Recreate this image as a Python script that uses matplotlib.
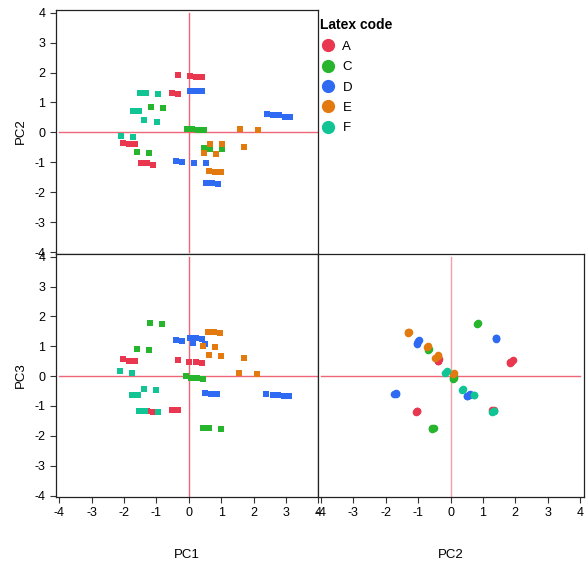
import matplotlib.pyplot as plt
from matplotlib.lines import Line2D

plt.rcParams['font.family'] = ['Liberation Sans', 'DejaVu Sans']
plt.rcParams['axes.unicode_minus'] = False

# principal component scores, one list per latex code
a_pc1 = [-0.34, 0.02, 0.22, 0.40, -0.52, -0.34, -2.03, -1.86, -1.67, -1.48, -1.29, -1.11]
a_pc2 = [1.93, 1.88, 1.85, 1.85, 1.33, 1.29, -0.36, -0.40, -0.40, -1.04, -1.04, -1.08]
a_pc3 = [0.53, 0.49, 0.49, 0.44, -1.13, -1.13, 0.57, 0.52, 0.52, -1.17, -1.17, -1.21]

c_pc1 = [-1.19, -0.82, -0.08, 0.07, 0.26, 0.44, 0.44, 0.63, 1.00, -1.60, -1.23]
c_pc2 = [0.85, 0.81, 0.12, 0.12, 0.08, 0.08, -0.51, -0.56, -0.56, -0.65, -0.68]
c_pc3 = [1.77, 1.74, 0.00, -0.05, -0.05, -0.08, -1.73, -1.73, -1.77, 0.92, 0.89]

d_pc1 = [0.03, 0.22, 0.40, 2.40, 2.59, 2.77, 2.95, 3.11, -0.41, -0.22, 0.14, 0.51, 0.51, 0.70, 0.88]
d_pc2 = [1.40, 1.40, 1.40, 0.60, 0.57, 0.57, 0.52, 0.52, -0.97, -1.00, -1.04, -1.04, -1.68, -1.68, -1.73]
d_pc3 = [1.29, 1.29, 1.25, -0.60, -0.64, -0.64, -0.68, -0.68, 1.21, 1.17, 1.12, 1.08, -0.57, -0.60, -0.60]

e_pc1 = [1.56, 2.10, 0.63, 1.00, 0.44, 0.81, 1.69, 0.60, 0.78, 0.97]
e_pc2 = [0.12, 0.08, -0.40, -0.40, -0.68, -0.73, -0.49, -1.28, -1.32, -1.32]
e_pc3 = [0.11, 0.08, 0.72, 0.68, 1.01, 0.97, 0.60, 1.49, 1.49, 1.45]

f_pc1 = [-1.53, -1.34, -0.96, -1.74, -1.56, -1.38, -1.00, -2.11, -1.74]
f_pc2 = [1.33, 1.33, 1.29, 0.72, 0.72, 0.40, 0.36, -0.12, -0.17]
f_pc3 = [-1.17, -1.17, -1.21, -0.64, -0.64, -0.44, -0.48, 0.17, 0.12]

codes = ['A', 'C', 'D', 'E', 'F']
colors = ['#E8374E', '#26B52C', '#2E6BF2', '#E27A0F', '#10C493']
pc1 = [a_pc1, c_pc1, d_pc1, e_pc1, f_pc1]
pc2 = [a_pc2, c_pc2, d_pc2, e_pc2, f_pc2]
pc3 = [a_pc3, c_pc3, d_pc3, e_pc3, f_pc3]
ticks = [-4, -3, -2, -1, 0, 1, 2, 3, 4]

fig = plt.figure(figsize=(5.86, 5.70), dpi=100)
ax_tl = fig.add_axes([0.09505, 0.55526, 0.44812, 0.42807])
ax_bl = fig.add_axes([0.09505, 0.12807, 0.44812, 0.42719])
ax_br = fig.add_axes([0.54317, 0.12807, 0.45342, 0.42719])

line_col = '#EE6677'
for ax in (ax_tl, ax_bl, ax_br):
    ax.plot([-4, 4], [0, 0], color=line_col, lw=1, zorder=1)
    ax.plot([0, 0], [-4, 4], color=line_col if ax is not ax_br else '#F4A0A8', lw=1, zorder=1)
    ax.set_ylim(-4.05, 4.11)
    for s in ax.spines.values():
        s.set_linewidth(0.9)
        s.set_color('#222222')
    ax.tick_params(labelsize=9, length=4, width=0.8, color='#333333')

for x1, y2, y3, col in zip(pc1, pc2, pc3, colors):
    ax_tl.scatter(x1, y2, marker='s', s=20, color=col, linewidths=0, zorder=3)
    ax_bl.scatter(x1, y3, marker='s', s=20, color=col, linewidths=0, zorder=3)
    ax_br.scatter(y2, y3, marker='o', s=30, color=col, linewidths=0, zorder=3)

ax_tl.set_xlim(-4.11, 3.97)
ax_bl.set_xlim(-4.11, 3.97)
ax_br.set_xlim(-4.08, 4.12)

ax_tl.set_xticks([])
ax_tl.set_yticks(ticks)
ax_bl.set_xticks(ticks)
ax_bl.set_yticks(ticks)
ax_br.set_xticks(ticks)
ax_br.set_yticks([])

ax_tl.set_ylabel('PC2', fontsize=9.5, labelpad=5)
ax_bl.set_ylabel('PC3', fontsize=9.5, labelpad=5)
ax_bl.set_xlabel('PC1', fontsize=9.5, labelpad=21)
ax_br.set_xlabel('PC2', fontsize=9.5, labelpad=21)

handles = [Line2D([], [], marker='o', ls='', color=c, markersize=8.5) for c in colors]
leg = fig.legend(handles, codes, title='Latex code', loc='upper left',
                 bbox_to_anchor=(0.537, 0.977), frameon=False, fontsize=9.5,
                 title_fontproperties={'weight': 'bold', 'size': 10},
                 handletextpad=0.5, labelspacing=0.62, handlelength=1.2,
                 borderaxespad=0, alignment='left')

plt.savefig('out.png', dpi=100)
